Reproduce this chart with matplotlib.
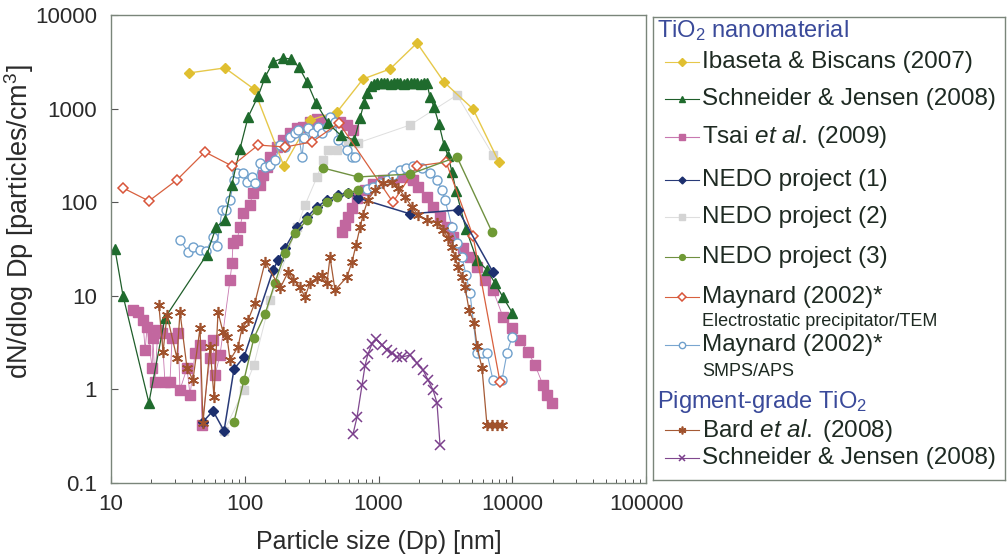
import numpy as np
import matplotlib
matplotlib.use("Agg")
import matplotlib.pyplot as plt
from matplotlib.ticker import LogLocator, NullFormatter

plt.rcParams['font.family'] = ['Liberation Sans', 'DejaVu Sans']
plt.rcParams['mathtext.fontset'] = 'custom'
plt.rcParams['mathtext.rm'] = 'Liberation Sans'
plt.rcParams['mathtext.it'] = 'Liberation Sans:italic'

# ---- datos (nm, particulas/cm3) ----
ibaseta_x = [38, 71, 117, 196, 307, 490, 766, 1220, 1940, 3090, 5090, 7950]
ibaseta_y = [2400, 2720, 1620, 244, 755, 920, 2070, 2650, 5020, 1920, 990, 269]

schn_x = [10.7, 12.3, 19.2, 25.3, 52, 61, 71, 80, 92, 106, 126, 142, 163, 193, 222, 254, 292, 341,
          420, 520, 660, 728, 780, 820, 880, 930, 980, 1040, 1100, 1160, 1230, 1300, 1380, 1460,
          1550, 1640, 1740, 1840, 1950, 2070, 2190, 2300, 2427, 2600, 2832, 3090, 3311, 3548,
          3800, 4510, 5450, 6460, 7420, 8510, 10000]
schn_y = [31.6, 10, 0.72, 5.8, 27.5, 54, 65, 153, 370, 814, 1364, 2176, 3150, 3470, 3390, 2780,
          1924, 1148, 700, 520, 462, 794, 1148, 1470, 1740, 1850, 1880, 1860, 1900, 1880, 1850,
          1890, 1870, 1880, 1850, 1880, 1860, 1890, 1870, 1850, 1880, 1860, 1330, 1040, 684,
          408, 312, 210, 132, 51.7, 24, 19, 13.7, 9.7, 6.6]

tsai_smps_x = [14.6, 15.9, 17.3, 18.0, 18.6, 20.3, 20.6, 21.3, 22.4, 24.1, 25.3, 27.6, 28.6, 31.7,
               32.8, 37.0, 39.0, 42.5, 46.3, 47.9, 55.0, 57.9, 60.0, 65.3, 77.6, 80.3, 81.7,
               87.5, 92.1, 97.0, 109, 115, 130, 137, 147, 155, 174, 193, 218, 246, 273, 307,
               347, 398, 457, 515, 581, 645]
tsai_smps_y = [7.05, 6.7, 5.5, 2.64, 4.64, 1.69, 3.54, 1.2, 4.31, 4.0, 1.2, 1.2, 3.54, 4.0,
               0.99, 1.69, 0.87, 2.45, 2.98, 0.42, 2.16, 3.37, 1.43, 2.33, 14.8, 22.4, 36.6,
               39.5, 54.3, 76.7, 93, 125, 153, 195, 238, 304, 389, 462, 550, 621, 636, 719,
               774, 755, 774, 719, 668, 590]
tsai_aps_x = [533, 562, 592, 634, 691, 792, 910, 1081, 1283, 1524, 1811, 1973, 2306, 2553,
              2882, 3250, 3606, 4285, 4830, 5450, 6250, 7180, 8530, 9960, 11430, 13120,
              14800, 16990, 18200, 19800]
tsai_aps_y = [48, 57, 69.5, 86.7, 111, 135, 156, 173, 181, 186, 173, 145, 114, 89, 69.5, 54,
              42.5, 32.4, 26, 20.3, 14.8, 11.5, 5.94, 4.53, 3.37, 2.51, 1.82, 1.11, 0.87, 0.72]

nedo1_x = [48.7, 57.9, 70, 83.1, 98.7, 163, 177, 200, 246, 292, 347, 412, 498, 592, 703,
           1722, 3930, 7180]
nedo1_y = [0.45, 0.59, 0.36, 1.65, 2.22, 18.9, 24, 32.4, 54.3, 69.5, 89, 106, 119, 125, 111,
           75, 82.6, 17.9]

nedo2_x = [70, 98.7, 117, 155, 246, 282, 347, 385, 419, 490, 592, 703, 1722, 3865, 7180]
nedo2_y = [0.36, 0.99, 1.82, 9.0, 54, 93, 186, 282, 361, 361, 440, 430, 668, 1397, 319]

nedo3_smps_x = [83, 98.7, 117, 142, 168, 200, 238, 292, 347, 412, 490, 592, 703]
nedo3_smps_y = [0.45, 1.26, 3.54, 6.4, 13.7, 28.6, 46.9, 64.5, 82.6, 100, 114, 125, 135]
nedo3_opc_x = [385, 703, 1722, 3865, 7060]
nedo3_opc_y = [232, 186, 200, 304, 48]

maytem_x = [12.3, 19.2, 31.1, 50.4, 80.3, 126, 200, 318, 507, 1283, 1940, 3200, 5090, 8100]
maytem_y = [142, 103, 173, 344, 244, 408, 389, 440, 702, 100, 244, 269, 43.5, 1.2]

maysmps1_x = [32.8, 37.7, 41.0, 46.3, 51.3, 57.9, 62.0, 67.6, 72.4, 77.6, 83.1, 87.5, 97.0,
              104, 113, 119, 130, 142, 155, 168, 184, 200, 218, 238, 250, 268, 277, 297, 324,
              353, 378, 412, 434, 473, 498, 581, 634, 667]
maysmps1_y = [39.5, 29.4, 33.2, 30.8, 30.1, 42.5, 34, 82.6, 82.6, 106, 173, 205, 205, 164,
              186, 160, 262, 238, 250, 282, 408, 389, 497, 548, 590, 304, 485, 621, 548, 636,
              548, 636, 813, 719, 462, 361, 304, 304]
maysmps2_x = [820, 910, 1026, 1158, 1283, 1449, 1607, 1811, 2115, 2427, 2737, 2985, 3143,
              3548, 3865, 4210, 4510, 4830, 5450, 5940, 6470, 7180, 8380, 9140, 9960]
maysmps2_y = [138, 145, 160, 173, 195, 221, 232, 244, 232, 205, 173, 135, 106, 54, 36.6, 26,
              16.7, 10.7, 2.45, 2.45, 2.45, 1.26, 1.26, 2.45, 3.63]

bard_x = [22.8, 24.5, 26.2, 31.1, 32.8, 37.0, 41.0, 46.3, 48.7, 55.0, 58.9, 63.1, 68.8, 73.7,
          77.6, 89.0, 95.4, 106, 119, 142, 184, 211, 230, 259, 282, 307, 347, 378, 412, 434,
          473, 581, 634, 679, 728, 766, 834, 942, 1081, 1260, 1400, 1578, 1780, 1973, 2306,
          2737, 3036, 3311, 3548, 3733, 3930, 4210, 4436, 4753, 5180, 5450, 5940, 6470,
          7060, 7690, 8380]
bard_y = [7.97, 2.51, 6.24, 2.16, 6.7, 1.69, 1.26, 4.53, 0.437, 2.84, 0.83, 6.7, 4.1, 3.63,
          2.06, 2.84, 4.53, 5.5, 8.4, 23, 12.1, 17.9, 14.8, 12.4, 9.7, 13.7, 15.5, 16.7, 13.7,
          26, 11.5, 15.9, 23, 34.9, 54, 73, 106, 135, 160, 164, 142, 114, 89, 73, 64.5, 60,
          50.5, 41.5, 33.2, 26, 20.3, 15.9, 12.4, 7.05, 5.13, 2.91, 1.69, 0.417, 0.417,
          0.417, 0.417]

pig_x = [645, 691, 753, 792, 834, 894, 958, 1062, 1158, 1261, 1374, 1500, 1722, 1940, 2153,
         2345, 2557, 2737, 2884]
pig_y = [0.334, 0.507, 1.11, 1.78, 2.39, 3.06, 3.45, 2.98, 2.64, 2.45, 2.22, 2.22, 2.33, 1.91,
         1.61, 1.26, 0.986, 0.716, 0.255]

x_ticks = [10, 100, 1000, 10000, 100000]
y_ticks = [0.1, 1, 10, 100, 1000, 10000]
y_ticklabels = ["0.1", "1", "10", "100", "1000", "10000"]

# estilos de cada serie
estilos = {
    "ibaseta": dict(color="#e6c84a", marker="D", ms=5.5, mfc="#e0bf30", mec="#e0bf30", lw=1.0),
    "schn": dict(color="#1f5e2a", marker="^", ms=6.5, mfc="#1f6b2d", mec="#1f6b2d", lw=0.9),
    "tsai": dict(color="#c878b0", marker="s", ms=6.5, mfc="#c2679f", mec="#c2679f", lw=0.6),
    "nedo1": dict(color="#283a78", marker="D", ms=5, mfc="#1c2f6e", mec="#1c2f6e", lw=1.1),
    "nedo2": dict(color="#dedede", marker="s", ms=6, mfc="#d4d4d4", mec="#d4d4d4", lw=0.7),
    "nedo3": dict(color="#6f9040", marker="o", ms=6, mfc="#6f9a35", mec="#6f9a35", lw=1.0),
    "maytem": dict(color="#d8603e", marker="D", ms=5.5, mfc="white", mec="#d8553a", lw=0.9, mew=1.1),
    "maysmps": dict(color="#7aa6d0", marker="o", ms=6.5, mfc="white", mec="#6fa0cc", lw=0.8, mew=1.0),
    "bard": dict(color="#a55a35", marker=(6, 2, 0), ms=8, mfc="#a0522d", mec="#a0522d", lw=0.9, mew=1.2),
    "pig": dict(color="#80488f", marker="x", ms=6.5, mfc="#7b3f8c", mec="#7b3f8c", lw=0.9, mew=1.1),
}

fig = plt.figure(figsize=(10.08, 5.55), dpi=100)
ax = fig.add_axes([111 / 1008, 1 - 483 / 555, (646 - 111) / 1008, (483 - 15) / 555])

ax.plot(nedo2_x, nedo2_y, **estilos["nedo2"])
ax.plot(tsai_smps_x, tsai_smps_y, **estilos["tsai"])
ax.plot(tsai_aps_x, tsai_aps_y, **estilos["tsai"])
ax.plot(ibaseta_x, ibaseta_y, **estilos["ibaseta"])
ax.plot(maysmps1_x, maysmps1_y, **estilos["maysmps"])
ax.plot(maysmps2_x, maysmps2_y, **estilos["maysmps"])
ax.plot(schn_x, schn_y, **estilos["schn"])
ax.plot(maytem_x, maytem_y, **estilos["maytem"])
ax.plot(nedo1_x, nedo1_y, **estilos["nedo1"])
ax.plot(nedo3_smps_x, nedo3_smps_y, **estilos["nedo3"])
ax.plot(nedo3_opc_x, nedo3_opc_y, **estilos["nedo3"])
ax.plot(bard_x, bard_y, **estilos["bard"])
ax.plot(pig_x, pig_y, **estilos["pig"])

ax.set_xscale("log")
ax.set_yscale("log")
ax.set_xlim(10, 100000)
ax.set_ylim(0.1, 10000)
ax.set_xticks(x_ticks)
ax.set_xticklabels([str(v) for v in x_ticks])
ax.set_yticks(y_ticks)
ax.set_yticklabels(y_ticklabels)
ax.xaxis.set_minor_locator(LogLocator(base=10, subs=np.arange(2, 10)))
ax.xaxis.set_minor_formatter(NullFormatter())
ax.yaxis.set_minor_locator(plt.NullLocator())
ax.tick_params(axis="both", which="major", direction="in", length=5, width=0.8,
               labelsize=16, colors="#555555", labelcolor="#2a2a2a")
ax.tick_params(axis="x", which="minor", direction="in", length=3, width=0.7, colors="#555555")
ax.tick_params(axis="y", pad=10)
ax.tick_params(axis="x", pad=8)
ax.tick_params(top=False, right=False)
for s in ax.spines.values():
    s.set_color("#7a857a")
    s.set_linewidth(1.0)

ax.set_xlabel("Particle size (Dp) [nm]", fontsize=18, color="#2a2a2a", labelpad=11)
fig.text(19 / 1008, 1 - 222 / 555, "dN/dlog Dp [particles/cm$^3$]", fontsize=19.5,
         color="#2a2a2a", rotation=90, ha="center", va="center")

# ---- leyenda dibujada a mano ----
lg = fig.add_axes([653 / 1008, 1 - 480 / 555, (1005 - 653) / 1008, (480 - 17) / 555])
lg.set_xlim(653, 1005)
lg.set_ylim(480, 17)
lg.set_xticks([])
lg.set_yticks([])
for s in lg.spines.values():
    s.set_color("#7a857a")
    s.set_linewidth(1.0)

azul = "#3a4a9a"
lg.text(657, 31, "TiO$_2$ nanomaterial", fontsize=17, color=azul, va="center", ha="left")
lg.text(657, 402, "Pigment-grade TiO$_2$", fontsize=17, color=azul, va="center", ha="left")

entradas = [
    ("ibaseta", "Ibaseta & Biscans (2007)", 62),
    ("schn", "Schneider & Jensen (2008)", 99),
    ("tsai", "Tsai $\\it{et\\ al.}\\;$(2009)", 137),
    ("nedo1", "NEDO project (1)", 180),
    ("nedo2", "NEDO project (2)", 217),
    ("nedo3", "NEDO project (3)", 257),
    ("maytem", "Maynard (2002)*", 297),
    ("maysmps", "Maynard (2002)*", 345),
    ("bard", "Bard $\\it{et\\ al.}\\;$(2008)", 430),
    ("pig", "Schneider & Jensen (2008)", 458),
]
for clave, texto, yy in entradas:
    st = dict(estilos[clave])
    st["ms"] = st["ms"] * 0.7
    st["lw"] = 0.8
    lg.plot([665, 682, 699], [yy, yy, yy], markevery=[1], **st)
    lg.text(702, yy, texto, fontsize=17.5, color="#1e2a22", va="center", ha="left")
lg.text(702, 322, "Electrostatic precipitator/TEM", fontsize=13, color="#1e2a22", va="center", ha="left")
lg.text(702, 371, "SMPS/APS", fontsize=13, color="#1e2a22", va="center", ha="left")

fig.savefig("out.png", dpi=100)
